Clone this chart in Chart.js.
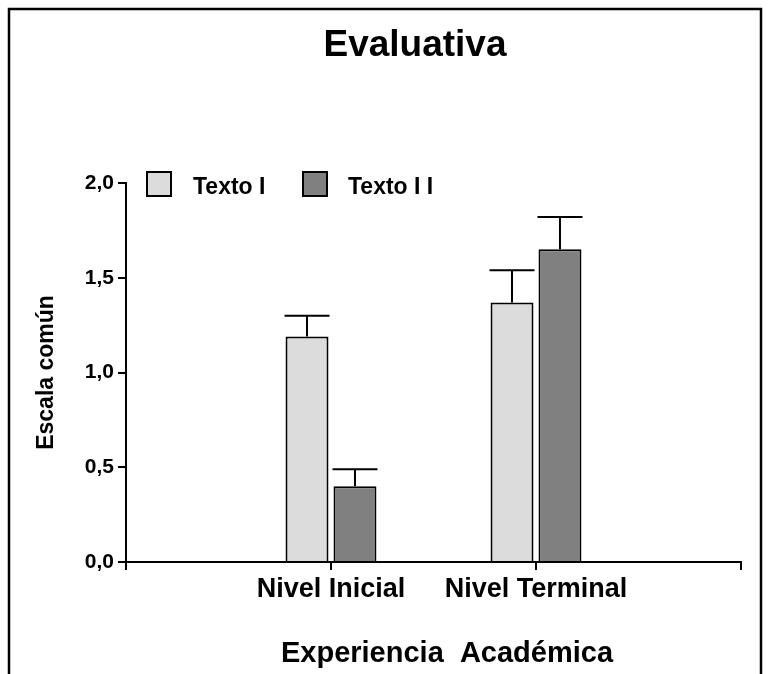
<!DOCTYPE html>
<html>
<head>
<meta charset="utf-8">
<title>Evaluativa</title>
<script src="https://cdn.jsdelivr.net/npm/chart.js@4/dist/chart.umd.min.js"></script>
<style>
  html, body { margin: 0; padding: 0; background: #fff; }
  #wrap { width: 771px; height: 674px; }
</style>
</head>
<body>
<div id="wrap"><canvas id="chart" width="771" height="674"></canvas></div>
<script>
// Groups on the x axis
const categories = ['Nivel Inicial', 'Nivel Terminal'];
// Series means and upper error (SEM) per group
const seriesNames = ['Texto I', 'Texto I I'];
const textoI = [1.19, 1.37];
const textoII = [0.40, 1.65];
const textoIErr = [0.11, 0.17];
const textoIIErr = [0.09, 0.17];
// Y axis ticks
const yTicks = [0, 0.5, 1.0, 1.5, 2.0];

const FONT = "'Liberation Sans', Arial, Helvetica, sans-serif";
const LIGHT = '#dcdcdc';
const DARK = '#808080';

// Empty slots at both ends give the axis its outer ticks
const axisLabels = ['', ...categories, ''];
const pad = arr => [null, ...arr, null];

const errorBars = {
  id: 'errorBars',
  afterDatasetsDraw(chart) {
    const ctx = chart.ctx;
    const y = chart.scales.y;
    const errs = [pad(textoIErr), pad(textoIIErr)];
    ctx.save();
    ctx.strokeStyle = '#000';
    ctx.lineWidth = 2;
    chart.data.datasets.forEach((ds, di) => {
      const meta = chart.getDatasetMeta(di);
      meta.data.forEach((bar, i) => {
        const v = ds.data[i];
        if (v == null) return;
        const top = y.getPixelForValue(v + errs[di][i]);
        const half = bar.width / 2 + 1;
        ctx.beginPath();
        ctx.moveTo(bar.x, bar.y);
        ctx.lineTo(bar.x, top);
        ctx.moveTo(bar.x - half, top);
        ctx.lineTo(bar.x + half, top);
        ctx.stroke();
      });
    });
    ctx.restore();
  }
};

const decorations = {
  id: 'decorations',
  beforeDraw(chart) {
    const ctx = chart.ctx;
    ctx.save();
    ctx.fillStyle = '#fff';
    ctx.fillRect(0, 0, chart.width, chart.height);
    ctx.strokeStyle = '#000';
    ctx.lineWidth = 2.5;
    ctx.strokeRect(9, 9, 752, 720);
    ctx.restore();
  },
  afterDraw(chart) {
    const ctx = chart.ctx;
    ctx.save();
    ctx.fillStyle = '#000';
    ctx.textBaseline = 'alphabetic';
    // Title
    ctx.textAlign = 'center';
    ctx.font = 'bold 37px ' + FONT;
    ctx.fillText('Evaluativa', 415, 56);
    // X axis title
    ctx.font = 'bold 29px ' + FONT;
    ctx.fillText('Experiencia  Académica', 447, 662);
    // Legend
    const items = [
      { name: seriesNames[0], color: LIGHT, box: 147, text: 193 },
      { name: seriesNames[1], color: DARK, box: 303, text: 348 }
    ];
    ctx.textAlign = 'left';
    ctx.font = 'bold 23px ' + FONT;
    items.forEach(it => {
      ctx.fillStyle = it.color;
      ctx.fillRect(it.box, 172, 24, 24);
      ctx.strokeStyle = '#000';
      ctx.lineWidth = 2;
      ctx.strokeRect(it.box, 172, 24, 24);
      ctx.fillStyle = '#000';
      ctx.fillText(it.name, it.text, 194);
    });
    ctx.restore();
  }
};

new Chart(document.getElementById('chart'), {
  type: 'bar',
  data: {
    labels: axisLabels,
    datasets: [
      {
        label: seriesNames[0],
        data: pad(textoI),
        backgroundColor: LIGHT,
        borderColor: '#000',
        borderWidth: 2,
        borderSkipped: 'start',
        categoryPercentage: 0.468,
        barPercentage: 0.896
      },
      {
        label: seriesNames[1],
        data: pad(textoII),
        backgroundColor: DARK,
        borderColor: '#000',
        borderWidth: 2,
        borderSkipped: 'start',
        categoryPercentage: 0.468,
        barPercentage: 0.896
      }
    ]
  },
  options: {
    responsive: false,
    animation: false,
    layout: { padding: { top: 183, right: 30, left: 0, bottom: 0 } },
    plugins: {
      legend: { display: false },
      title: { display: false },
      tooltip: { enabled: false }
    },
    scales: {
      x: {
        type: 'category',
        offset: false,
        grid: {
          offset: false,
          drawOnChartArea: false,
          drawTicks: true,
          tickLength: 8,
          color: '#000',
          lineWidth: 2
        },
        border: { display: true, color: '#000', width: 2 },
        ticks: {
          color: '#000',
          padding: 3,
          maxRotation: 0,
          autoSkip: false,
          font: { family: FONT, size: 27, weight: 'bold' }
        },
        afterFit(scale) { scale.height = 674 - 562; }
      },
      y: {
        min: 0,
        max: 2,
        grid: {
          drawOnChartArea: false,
          drawTicks: true,
          tickLength: 8,
          color: '#000',
          lineWidth: 2
        },
        border: { display: true, color: '#000', width: 2 },
        afterBuildTicks(scale) { scale.ticks = yTicks.map(v => ({ value: v })); },
        ticks: {
          color: '#000',
          padding: 4,
          font: { family: FONT, size: 21, weight: 'bold' },
          callback: v => Number(v).toFixed(1).replace('.', ',')
        },
        title: {
          display: true,
          text: 'Escala común',
          color: '#000',
          padding: { top: 33, bottom: 0 },
          font: { family: FONT, size: 23, weight: 'bold' }
        },
        afterFit(scale) { scale.width = 126; }
      }
    }
  },
  plugins: [decorations, errorBars]
});
</script>
</body>
</html>
